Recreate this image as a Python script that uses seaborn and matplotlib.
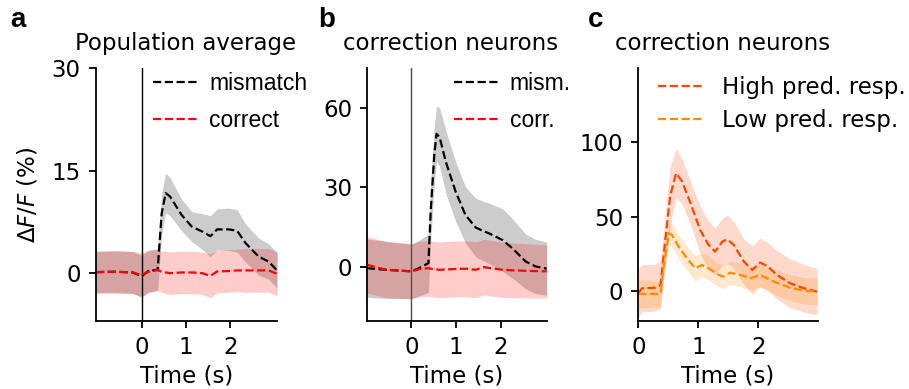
import numpy as np
import pandas as pd
import matplotlib
matplotlib.use("Agg")
import matplotlib.pyplot as plt
import seaborn as sns

# ---------------- data ----------------
# Panel a: population average
t_a = [-1.03, -0.6, -0.2, 0.0, 0.15, 0.36, 0.45, 0.54, 0.64, 0.9, 1.13, 1.36,
       1.55, 1.70, 1.96, 2.15, 2.34, 2.64, 2.86, 3.05]
mis_a = [0.15, 0.2, 0.1, -0.45, 0.3, 0.5, 8.7, 11.7, 11.2, 8.5, 6.8, 6.1,
         5.4, 6.4, 6.4, 6.2, 4.4, 2.4, 1.7, 0.4]
mis_a_sem = [3.05, 3.05, 3.05, 3.05, 3.05, 3.05, 3.0, 2.9, 2.8, 2.3, 2.2, 2.6,
             3.0, 3.0, 3.1, 3.1, 2.8, 2.7, 2.6, 2.6]
cor_a = [0.15, 0.2, 0.1, -0.3, 0.2, 0.45, 0.2, 0.1, 0.0, 0.1, 0.1, 0.0,
         -0.4, 0.25, 0.3, 0.4, 0.4, 0.4, 0.4, -0.1]
cor_a_sem = [3.05, 3.1, 3.1, 3.2, 3.1, 3.0, 3.0, 3.1, 3.1, 3.1, 3.1, 3.1,
             3.2, 3.1, 3.1, 3.1, 3.2, 3.2, 3.2, 3.2]

# Panel b: correction neurons
t_b = [-1.0, -0.57, 0.0, 0.17, 0.38, 0.43, 0.51, 0.56, 0.63, 0.77, 0.99, 1.21,
       1.44, 1.62, 1.74, 2.04, 2.26, 2.56, 2.78, 3.03]
mis_b = [-0.4, -1.0, -1.6, -0.4, 1.5, 20.9, 42.0, 50.2, 49.0, 39.6, 28.4, 19.6,
         14.9, 13.5, 12.7, 10.2, 7.1, 2.1, 0.25, -0.6]
mis_b_sem = [11.0, 10.8, 10.3, 10.5, 11.0, 11.0, 11.0, 10.4, 11.0, 11.8, 11.2, 10.6,
             11.0, 11.2, 11.4, 11.8, 11.2, 10.3, 10.2, 10.0]
cor_b = [0.9, -1.0, -1.6, -0.8, -0.4, -0.6, -0.8, -0.9, -1.0, -0.9, -0.7, -0.6,
         -1.0, 0.0, -0.3, -1.0, -1.2, -1.4, -1.5, -1.6]
cor_b_sem = [10.7, 10.5, 10.3, 10.4, 10.5, 10.5, 10.5, 10.5, 10.5, 10.5, 10.5, 10.5,
             10.5, 10.5, 10.5, 10.4, 10.3, 10.2, 10.1, 10.0]

# Panel c: correction neurons, high vs low prediction response
t_high = [0.0, 0.06, 0.28, 0.37, 0.45, 0.53, 0.63, 0.73, 0.87, 1.03, 1.17, 1.28,
          1.40, 1.48, 1.59, 1.76, 1.90, 2.03, 2.15, 2.31, 2.53, 2.76, 2.98]
high = [-1.6, 1.8, 2.2, 4.0, 34.4, 63.6, 79.3, 73.7, 59.1, 41.1, 31.0, 26.5,
        33.2, 34.8, 31.0, 19.7, 14.1, 19.1, 16.8, 10.8, 5.2, 1.8, -0.4]
high_sem = [16.3, 16.0, 15.7, 16.2, 17.0, 20.0, 16.5, 15.2, 14.7, 15.7, 16.3, 15.7,
            15.8, 16.3, 15.8, 15.2, 16.3, 16.3, 16.0, 16.3, 16.5, 16.0, 15.7]
t_low = [0.0, 0.37, 0.42, 0.51, 0.56, 0.67, 0.81, 0.95, 1.06, 1.17, 1.34, 1.42,
         1.53, 1.70, 1.87, 2.03, 2.26, 2.53, 2.76, 2.98]
low = [-2.0, -2.0, 16.4, 38.9, 37.7, 29.9, 22.0, 15.3, 17.5, 15.3, 10.8, 9.6,
       12.3, 10.8, 8.6, 10.8, 6.3, 2.2, 0.2, -0.4]
low_sem = [9.6, 8.4, 8.0, 7.9, 7.9, 7.85, 8.0, 8.5, 7.9, 7.9, 7.85, 7.85,
           7.85, 7.85, 7.85, 8.0, 8.5, 8.7, 8.9, 9.0]

yticks_a = [0, 15, 30]
yticks_b = [0, 30, 60]
yticks_c = [0, 50, 100]
xticks = [0, 1, 2]

# ---------------- figure ----------------
sns.set_style("ticks")
plt.rcParams["font.family"] = ["DejaVu Sans"]
plt.rcParams["axes.linewidth"] = 1.3
plt.rcParams["xtick.major.width"] = 1.3
plt.rcParams["ytick.major.width"] = 1.3
plt.rcParams["xtick.major.size"] = 5
plt.rcParams["ytick.major.size"] = 5
for key in ("xtick.color", "ytick.color", "axes.edgecolor", "text.color",
            "axes.labelcolor", "xtick.labelcolor", "ytick.labelcolor"):
    plt.rcParams[key] = "black"

W, H = 909, 389
fig = plt.figure(figsize=(W / 100, H / 100), dpi=100)


def axes_px(left, top, right, bottom):
    return fig.add_axes([left / W, 1 - bottom / H, (right - left) / W, (bottom - top) / H])


ax_a = axes_px(96, 68, 277, 321)
ax_b = axes_px(367.3, 68, 546.7, 321)
ax_c = axes_px(638.3, 68, 817.7, 321)

FS = 16.5


def band(ax, t, m, s, color, label, alpha=0.2):
    t = np.asarray(t); m = np.asarray(m); s = np.asarray(s)
    ax.fill_between(t, m - s, m + s, color=color, alpha=alpha, lw=0)
    df = pd.DataFrame({"t": t, "y": m})
    sns.lineplot(data=df, x="t", y="y", ax=ax, color=color, lw=1.6,
                 linestyle="--", label=label)


# Panel a
band(ax_a, t_a, mis_a, mis_a_sem, "black", "mismatch")
band(ax_a, t_a, cor_a, cor_a_sem, "red", "correct")
ax_a.axvline(0, color="black", lw=1.0, zorder=1)
ax_a.set_xlim(-1.03, 3.05)
ax_a.set_ylim(-7, 30)
ax_a.set_yticks(yticks_a)
ax_a.set_title("Population average", fontsize=FS, pad=13, x=0.497)
ax_a.set_ylabel(r"$\Delta F/F$ (%)", fontsize=FS)
ax_a.yaxis.set_label_coords(-0.31, 0.5)

# Panel b
band(ax_b, t_b, mis_b, mis_b_sem, "black", "mism.")
band(ax_b, t_b, cor_b, cor_b_sem, "red", "corr.")
ax_b.axvline(0, color="0.3", lw=1.0, zorder=1)
ax_b.set_xlim(-0.99, 3.03)
ax_b.set_ylim(-20.3, 75)
ax_b.set_yticks(yticks_b)
ax_b.set_title("correction neurons", fontsize=FS, pad=13, x=0.464)
ax_b.set_ylabel("")

# Panel c
band(ax_c, t_high, high, high_sem, "orangered", "High pred. resp.")
band(ax_c, t_low, low, low_sem, "darkorange", "Low pred. resp.")
ax_c.set_xlim(0, 2.99)
ax_c.set_ylim(-20.2, 150)
ax_c.set_yticks(yticks_c)
ax_c.set_title("correction neurons", fontsize=FS, pad=13, x=0.467)
ax_c.set_ylabel("")

for ax in (ax_a, ax_b, ax_c):
    ax.set_xticks(xticks)
    ax.set_xlabel("Time (s)", fontsize=FS, labelpad=4)
    ax.tick_params(axis="both", labelsize=FS, pad=6)
    sns.despine(ax=ax)

# legends
arial = {"family": "Liberation Sans", "size": FS}
ax_a.legend(loc="upper left", bbox_to_anchor=(0.265, 1.02), frameon=False,
            prop=arial, handlelength=2.0, handletextpad=0.45,
            labelspacing=0.62, borderaxespad=0)
ax_b.legend(loc="upper left", bbox_to_anchor=(0.43, 1.02), frameon=False,
            prop=arial, handlelength=2.0, handletextpad=0.45,
            labelspacing=0.62, borderaxespad=0)
ax_c.legend(loc="upper left", bbox_to_anchor=(0.056, 1.005), frameon=False,
            prop={"family": "DejaVu Sans", "size": FS}, handlelength=2.0,
            labelspacing=0.45, borderaxespad=0)

# panel letters
for x, letter in ((10, "a"), (318, "b"), (588, "c")):
    fig.text(x / W, 1 - 26.7 / H, letter, fontsize=20, fontweight="bold",
             family="Liberation Sans", va="baseline", ha="left")

fig.savefig("out.png", dpi=100)
